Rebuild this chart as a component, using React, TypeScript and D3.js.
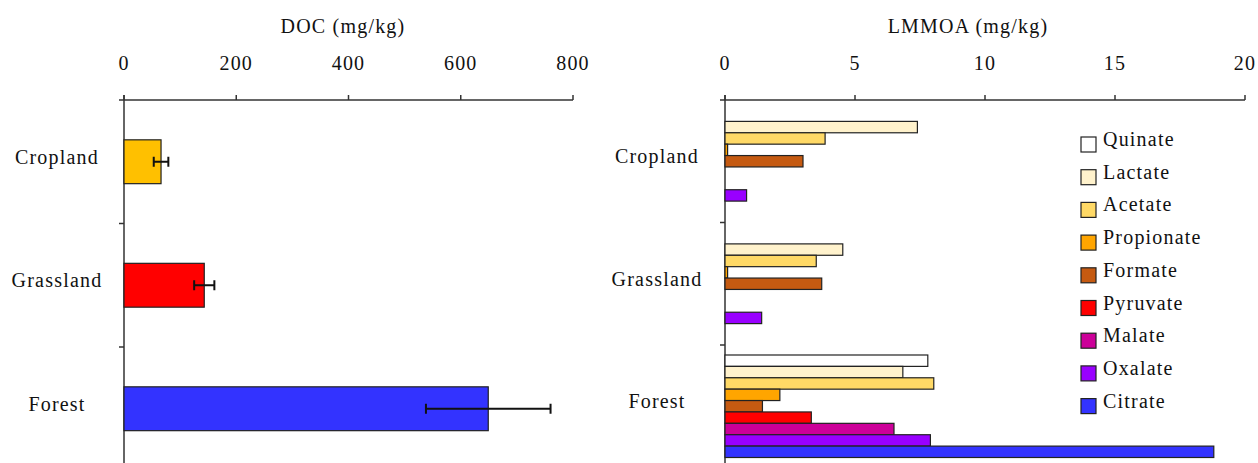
import React, { useRef, useEffect } from "react";
import * as d3 from "d3";

// ----- data -----
const landUses = ["Cropland", "Grassland", "Forest"];
const docMeans = [66, 143, 649];
const docErrors = [13, 18, 111];
const docColors = ["#FFC000", "#FF0000", "#3333FF"];
const docTicks = [0, 200, 400, 600, 800];

const acids = ["Quinate", "Lactate", "Acetate", "Propionate", "Formate", "Pyruvate", "Malate", "Oxalate", "Citrate"];
const acidColors = ["#FFFFFF", "#FFF2CC", "#FFD966", "#FFA500", "#C55A11", "#FF0000", "#CC0099", "#9900FF", "#3333FF"];
const croplandAcids = [0, 7.4, 3.85, 0.1, 3.0, 0, 0, 0.83, 0];
const grasslandAcids = [0, 4.53, 3.51, 0.1, 3.72, 0, 0, 1.41, 0];
const forestAcids = [7.8, 6.84, 8.03, 2.11, 1.44, 3.32, 6.5, 7.9, 18.8];
const lmmoaTicks = [0, 5, 10, 15, 20];

const FONT = "'Liberation Serif', 'Times New Roman', serif";
const AXIS = "#333";

export default function App() {
  const ref = useRef<SVGSVGElement | null>(null);

  useEffect(() => {
    const svg = d3.select(ref.current);
    svg.selectAll("*").remove();

    const textStyle = (sel: any) =>
      sel
        .style("font-family", FONT)
        .style("font-size", "20px")
        .style("letter-spacing", "1.2px")
        .attr("fill", "#111");

    function drawFrame(x: any, y: any, ticks: number[], title: string, titleX: number, labelX: number) {
      const g = svg.append("g");
      const [x0, x1] = x.range();
      const axisY = y.range()[0];
      // top axis line + ticks
      g.append("line").attr("x1", x0 - 5).attr("x2", x1).attr("y1", axisY).attr("y2", axisY)
        .attr("stroke", AXIS).attr("stroke-width", 1.5);
      g.selectAll("line.xt").data(ticks).enter().append("line")
        .attr("x1", (d: number) => x(d)).attr("x2", (d: number) => x(d))
        .attr("y1", axisY - 5).attr("y2", axisY)
        .attr("stroke", AXIS).attr("stroke-width", 1.5);
      g.selectAll("text.xt").data(ticks).enter().append("text")
        .attr("x", (d: number) => x(d)).attr("y", 70)
        .attr("text-anchor", "middle")
        .call(textStyle)
        .text((d: number) => d);
      g.append("text").attr("x", titleX).attr("y", 33)
        .attr("text-anchor", "middle").call(textStyle).text(title);
      // left axis line with ticks at band boundaries
      g.append("line").attr("x1", x0).attr("x2", x0).attr("y1", axisY - 5).attr("y2", 463)
        .attr("stroke", AXIS).attr("stroke-width", 1.5);
      g.selectAll("line.yt").data(landUses.slice(1)).enter().append("line")
        .attr("x1", x0 - 5).attr("x2", x0)
        .attr("y1", (d: string) => y(d)).attr("y2", (d: string) => y(d))
        .attr("stroke", AXIS).attr("stroke-width", 1.5);
      g.selectAll("text.yl").data(landUses).enter().append("text")
        .attr("x", labelX)
        .attr("y", (d: string) => (y(d) as number) + y.bandwidth() / 2 + 2)
        .attr("text-anchor", "middle")
        .call(textStyle)
        .text((d: string) => d);
      return g;
    }

    // ----- DOC panel -----
    const yDoc = d3.scaleBand().domain(landUses).range([100, 100 + 3 * 123.5]).padding(0);
    const xDoc = d3.scaleLinear().domain([0, 800]).range([124, 573]);
    const gDoc = drawFrame(xDoc, yDoc, docTicks, "DOC (mg/kg)", 343, 57);
    const barH = yDoc.bandwidth() * 0.355;

    gDoc.selectAll("rect.bar").data(landUses).enter().append("rect")
      .attr("x", xDoc(0))
      .attr("y", (d: string) => (yDoc(d) as number) + (yDoc.bandwidth() - barH) / 2)
      .attr("width", (d: string, i: number) => xDoc(docMeans[i]) - xDoc(0))
      .attr("height", barH)
      .attr("fill", (d: string, i: number) => docColors[i])
      .attr("stroke", "#222").attr("stroke-width", 1.2);

    const mid = (d: string) => (yDoc(d) as number) + yDoc.bandwidth() / 2;
    const err = gDoc.selectAll("g.err").data(landUses).enter().append("g")
      .attr("stroke", "#111").attr("stroke-width", 2);
    err.append("line")
      .attr("x1", (d: string, i: number) => xDoc(docMeans[i] - docErrors[i]))
      .attr("x2", (d: string, i: number) => xDoc(docMeans[i] + docErrors[i]))
      .attr("y1", mid)
      .attr("y2", mid);
    [-1, 1].forEach((s) => {
      err.append("line")
        .attr("x1", (d: string, i: number) => xDoc(docMeans[i] + s * docErrors[i]))
        .attr("x2", (d: string, i: number) => xDoc(docMeans[i] + s * docErrors[i]))
        .attr("y1", (d: string) => mid(d) - 5)
        .attr("y2", (d: string) => mid(d) + 5);
    });

    // ----- LMMOA panel -----
    const yAcid = d3.scaleBand().domain(landUses).range([100, 100 + 3 * 122.5]).padding(0);
    const xAcid = d3.scaleLinear().domain([0, 20]).range([725, 1245]);
    const gAcid = drawFrame(xAcid, yAcid, lmmoaTicks, "LMMOA (mg/kg)", 968, 657);
    const pad = 10;
    const y1 = d3.scaleBand().domain(acids).range([pad, yAcid.bandwidth() - pad]).padding(0);
    const groups = [croplandAcids, grasslandAcids, forestAcids];

    landUses.forEach((lu, gi) => {
      const rows = acids.map((a, i) => ({ acid: a, value: groups[gi][i], color: acidColors[i] }))
        .filter((r) => r.value > 0);
      gAcid.append("g")
        .attr("transform", `translate(0,${yAcid(lu)})`)
        .selectAll("rect")
        .data(rows)
        .enter()
        .append("rect")
        .attr("x", xAcid(0))
        .attr("y", (r: any) => y1(r.acid) as number)
        .attr("width", (r: any) => xAcid(r.value) - xAcid(0))
        .attr("height", y1.bandwidth())
        .attr("fill", (r: any) => r.color)
        .attr("stroke", "#222").attr("stroke-width", 1.2);
    });

    // legend
    const lg = svg.append("g").attr("transform", "translate(1081,137)");
    const rowH = 32.7;
    lg.selectAll("rect").data(acids).enter().append("rect")
      .attr("x", 0).attr("y", (d: string, i: number) => i * rowH)
      .attr("width", 15).attr("height", 15)
      .attr("fill", (d: string, i: number) => acidColors[i])
      .attr("stroke", "#222").attr("stroke-width", 1.2);
    lg.selectAll("text").data(acids).enter().append("text")
      .attr("x", 22).attr("y", (d: string, i: number) => i * rowH + 9)
      .call(textStyle)
      .text((d: string) => d);
  }, []);

  return (
    <div style={{ position: "absolute", left: 0, top: 0, background: "#fff" }}>
      <svg ref={ref} width={1258} height={463}></svg>
    </div>
  );
}
